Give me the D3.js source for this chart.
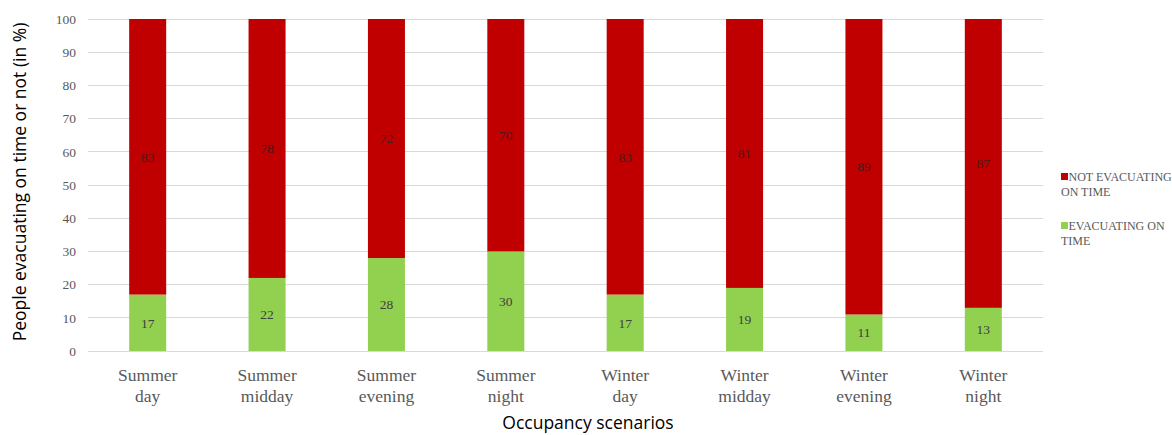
<!DOCTYPE html>
<html>
<head>
<meta charset="utf-8">
<script src="https://cdn.jsdelivr.net/npm/d3@7"></script>
<style>
  html, body { margin: 0; padding: 0; background: #fff; }
  svg { display: block; }
</style>
</head>
<body>
<svg id="chart" width="1172" height="435"></svg>
<script>
// Occupancy scenarios (two-line labels)
const categories = [
  ["Summer", "day"], ["Summer", "midday"], ["Summer", "evening"], ["Summer", "night"],
  ["Winter", "day"], ["Winter", "midday"], ["Winter", "evening"], ["Winter", "night"]
];
// Share of people evacuating on time (%)
const evacuating = [17, 22, 28, 30, 17, 19, 11, 13];
// Share of people not evacuating on time (%)
const notEvacuating = [83, 78, 72, 70, 83, 81, 89, 87];
const yTicks = [0, 10, 20, 30, 40, 50, 60, 70, 80, 90, 100];
const seriesNames = ["NOT EVACUATING ON TIME", "EVACUATING ON TIME"];

const green = "#92d050", red = "#c00000";
const serif = "'Liberation Serif', 'Times New Roman', serif";
const sans = "'Open Sans', 'Liberation Sans', sans-serif";

const svg = d3.select("#chart");
const plot = { left: 88, right: 1043, top: 19, bottom: 351 };

const keys = categories.map(c => c.join(" "));
const x = d3.scaleBand().domain(keys).range([plot.left, plot.right]).paddingInner(0.69).paddingOuter(0.345);
const y = d3.scaleLinear().domain([0, 100]).range([plot.bottom, plot.top]);

// Gridlines
svg.append("g").selectAll("line").data(yTicks).join("line")
  .attr("x1", plot.left).attr("x2", plot.right)
  .attr("y1", d => y(d)).attr("y2", d => y(d))
  .attr("stroke", "#d9d9d9").attr("stroke-width", 1)
  .attr("shape-rendering", "crispEdges");

// Y axis labels
const yAxis = d3.axisLeft(y).tickValues(yTicks).tickSize(0).tickPadding(12);
const gy = svg.append("g").attr("transform", `translate(${plot.left},0)`).call(yAxis);
gy.attr("font-family", serif).attr("font-size", 13.5);
gy.select(".domain").remove();
gy.selectAll("text").style("font-family", serif).attr("font-size", 13.5).attr("fill", "#595959");

// Stacked bars
const rows = keys.map((k, i) => ({ key: k, ev: evacuating[i], nev: notEvacuating[i] }));
const stack = d3.stack().keys(["ev", "nev"])(rows);
const colors = { ev: green, nev: red };

stack.forEach(layer => {
  svg.append("g").selectAll("rect").data(layer).join("rect")
    .attr("x", d => x(d.data.key))
    .attr("width", x.bandwidth())
    .attr("y", d => y(d[1]))
    .attr("height", d => y(d[0]) - y(d[1]))
    .attr("fill", colors[layer.key]);
  svg.append("g").selectAll("text").data(layer).join("text")
    .attr("x", d => x(d.data.key) + x.bandwidth() / 2)
    .attr("y", d => y((d[0] + d[1]) / 2))
    .attr("dy", "0.35em")
    .attr("text-anchor", "middle")
    .style("font-family", serif).attr("font-size", 13.5)
    .attr("fill", layer.key === "ev" ? "#404040" : "#4a1a1a")
    .text(d => d.data[layer.key]);
});

// X axis category labels
const xl = svg.append("g").selectAll("text").data(categories).join("text")
  .attr("x", (d, i) => x(keys[i]) + x.bandwidth() / 2)
  .attr("y", 381)
  .attr("text-anchor", "middle")
  .style("font-family", serif).attr("font-size", 17.5).attr("fill", "#595959");
xl.append("tspan").attr("x", (d, i) => x(keys[i]) + x.bandwidth() / 2).text(d => d[0]);
xl.append("tspan").attr("x", (d, i) => x(keys[i]) + x.bandwidth() / 2).attr("dy", 21).text(d => d[1]);

// Axis titles
svg.append("text")
  .attr("transform", `translate(26,${(plot.top + plot.bottom) / 2 - 3}) rotate(-90)`)
  .attr("text-anchor", "middle")
  .style("font-family", sans).attr("font-size", 17.5).attr("fill", "#000")
  .text("People evacuating on time or not (in %)");
svg.append("text")
  .attr("x", 588).attr("y", 429)
  .attr("text-anchor", "middle")
  .style("font-family", sans).attr("font-size", 17.5).attr("fill", "#000")
  .text("Occupancy scenarios");

// Legend
const legend = [
  { name: seriesNames[0], lines: ["NOT EVACUATING", "ON TIME"], color: red, y: 177 },
  { name: seriesNames[1], lines: ["EVACUATING ON", "TIME"], color: green, y: 226 }
];
const lg = svg.append("g").selectAll("g").data(legend).join("g");
lg.append("rect")
  .attr("x", 1061).attr("y", d => d.y - 4).attr("width", 7).attr("height", 7)
  .attr("fill", d => d.color);
lg.append("text")
  .style("font-family", serif).attr("font-size", 12).attr("fill", "#595959")
  .selectAll("tspan").data(d => d.lines.map((t, j) => ({ t, j, y: d.y }))).join("tspan")
  .attr("x", d => d.j === 0 ? 1068.5 : 1061)
  .attr("y", d => d.y + 4 + d.j * 15)
  .text(d => d.t);
</script>
</body>
</html>
